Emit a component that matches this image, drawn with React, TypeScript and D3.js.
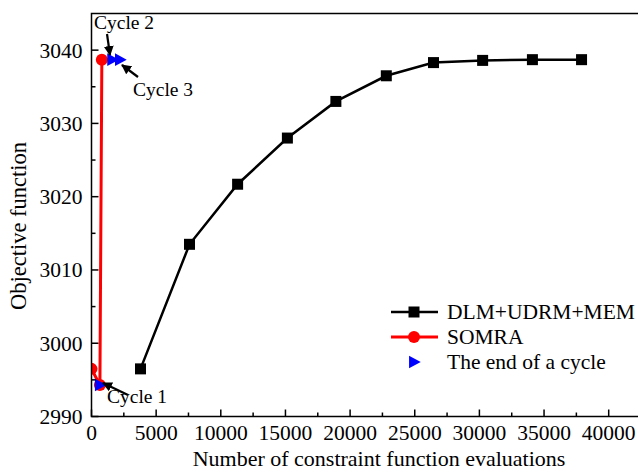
import React from "react";
import * as d3 from "d3";

const dlmX = [3790, 7580, 11300, 15150, 18900, 22800, 26450, 30250, 34100, 37900];
const dlmY = [2996.5, 3013.5, 3021.7, 3028.0, 3033.0, 3036.5, 3038.3, 3038.6, 3038.7, 3038.7];
const somraX = [0, 650, 800, 1600, 2200];
const somraY = [2996.5, 2994.3, 3038.7, 3038.7, 3038.7];
const cycleX = [650, 1600, 2200];
const cycleY = [2994.3, 3038.7, 3038.7];
const xTicks = [0, 5000, 10000, 15000, 20000, 25000, 30000, 35000, 40000];
const yTicks = [2990, 3000, 3010, 3020, 3030, 3040];
const legendLabels = ["DLM+UDRM+MEM", "SOMRA", "The end of a cycle"];

const W = 638, H = 471;
const left = 91.5, top = 13.5, bottom = 416.5;
const FONT = "'Liberation Serif', 'Times New Roman', serif";

export default function App() {
  const x = d3.scaleLinear().domain([0, 45000]).range([left, left + 9 * 64.65]);
  const y = d3.scaleLinear().domain([2990, 3045]).range([bottom, top]);
  const right = x(45000);
  const line = d3.line<[number, number]>().x(d => x(d[0])).y(d => y(d[1]));
  const dlm: [number, number][] = dlmX.map((v, i) => [v, dlmY[i]]);
  const som: [number, number][] = somraX.map((v, i) => [v, somraY[i]]);
  const minorX = d3.range(2500, 45000, 5000);
  const minorY = d3.range(2995, 3045, 10);
  const tri = (cx: number, cy: number, s: number) =>
    `M${cx - s * 0.55},${cy - s * 0.7}L${cx + s * 0.75},${cy}L${cx - s * 0.55},${cy + s * 0.7}Z`;
  const fs = 21.5;
  return (
    <svg width={W} height={H} style={{ position: "fixed", left: 0, top: 0, background: "#fff" }} fontFamily={FONT}>
      <defs>
        <clipPath id="clip">
          <rect x={left} y={top} width={right - left} height={bottom - top} />
        </clipPath>
        <marker id="ah" viewBox="0 0 10 10" refX="9" refY="5" markerWidth="4.5" markerHeight="4.5" orient="auto">
          <path d="M0,0L10,5L0,10Z" fill="#000" />
        </marker>
      </defs>
      {/* data */}
      <g clipPath="url(#clip)">
        <path d={line(dlm) || ""} fill="none" stroke="#000" strokeWidth={2.5} />
        {dlm.map((d, i) => (
          <rect key={i} x={x(d[0]) - 5.5} y={y(d[1]) - 5.5} width={11} height={11} fill="#000" />
        ))}
        <path d={line(som) || ""} fill="none" stroke="#f00" strokeWidth={3} />
        {som.slice(0, 3).map((d, i) => (
          <circle key={i} cx={x(d[0])} cy={y(d[1])} r={6} fill="#f00" />
        ))}
        {cycleX.map((v, i) => (
          <path key={i} d={tri(x(v), y(cycleY[i]), 9)} fill="#00f" />
        ))}
      </g>
      {/* frame */}
      <path d={`M${right},${top}H${left}V${bottom}H${right}`} fill="none" stroke="#000" strokeWidth={1.5} />
      {/* x ticks */}
      {xTicks.map(t => (
        <g key={t}>
          <line x1={x(t)} x2={x(t)} y1={bottom} y2={bottom - 7} stroke="#000" strokeWidth={1.5} />
          <text x={x(t)} y={bottom + 23.5} textAnchor="middle" fontSize={fs}>{t}</text>
        </g>
      ))}
      {minorX.map(t => (
        <line key={t} x1={x(t)} x2={x(t)} y1={bottom} y2={bottom - 4} stroke="#000" strokeWidth={1.5} />
      ))}
      {yTicks.map(t => (
        <g key={t}>
          <line x1={left} x2={left + 7} y1={y(t)} y2={y(t)} stroke="#000" strokeWidth={1.5} />
          <text x={left - 9} y={y(t) + 7.5} textAnchor="end" fontSize={fs}>{t}</text>
        </g>
      ))}
      {minorY.map(t => (
        <line key={t} x1={left} x2={left + 4} y1={y(t)} y2={y(t)} stroke="#000" strokeWidth={1.5} />
      ))}
      <text x={379} y={465.5} textAnchor="middle" fontSize={22}>Number of constraint function evaluations</text>
      <text transform={`translate(26,226) rotate(-90)`} textAnchor="middle" fontSize={22.5}>Objective function</text>
      {/* annotations */}
      <text x={94} y={29} fontSize={19.5}>Cycle 2</text>
      <line x1={107} y1={34} x2={110} y2={55} stroke="#000" strokeWidth={2.2} markerEnd="url(#ah)" />
      <text x={133} y={96} fontSize={19.5}>Cycle 3</text>
      <line x1={138} y1={77} x2={122} y2={65} stroke="#000" strokeWidth={2.2} markerEnd="url(#ah)" />
      <text x={107} y={403} fontSize={19.5}>Cycle 1</text>
      <line x1={128} y1={395} x2={103} y2={383} stroke="#000" strokeWidth={2.2} markerEnd="url(#ah)" />
      {/* legend */}
      {legendLabels.map((l, i) => {
        const ly = 312 + i * 25;
        return (
          <g key={l}>
            {i === 0 && <line x1={391} x2={438} y1={ly} y2={ly} stroke="#000" strokeWidth={2.5} />}
            {i === 0 && <rect x={408.5} y={ly - 5.5} width={11} height={11} fill="#000" />}
            {i === 1 && <line x1={391} x2={438} y1={ly} y2={ly} stroke="#f00" strokeWidth={3} />}
            {i === 1 && <circle cx={414} cy={ly} r={6} fill="#f00" />}
            {i === 2 && <path d={tri(414, ly, 9)} fill="#00f" />}
            <text x={447} y={ly + 7} fontSize={21.5}>{l}</text>
          </g>
        );
      })}
    </svg>
  );
}
